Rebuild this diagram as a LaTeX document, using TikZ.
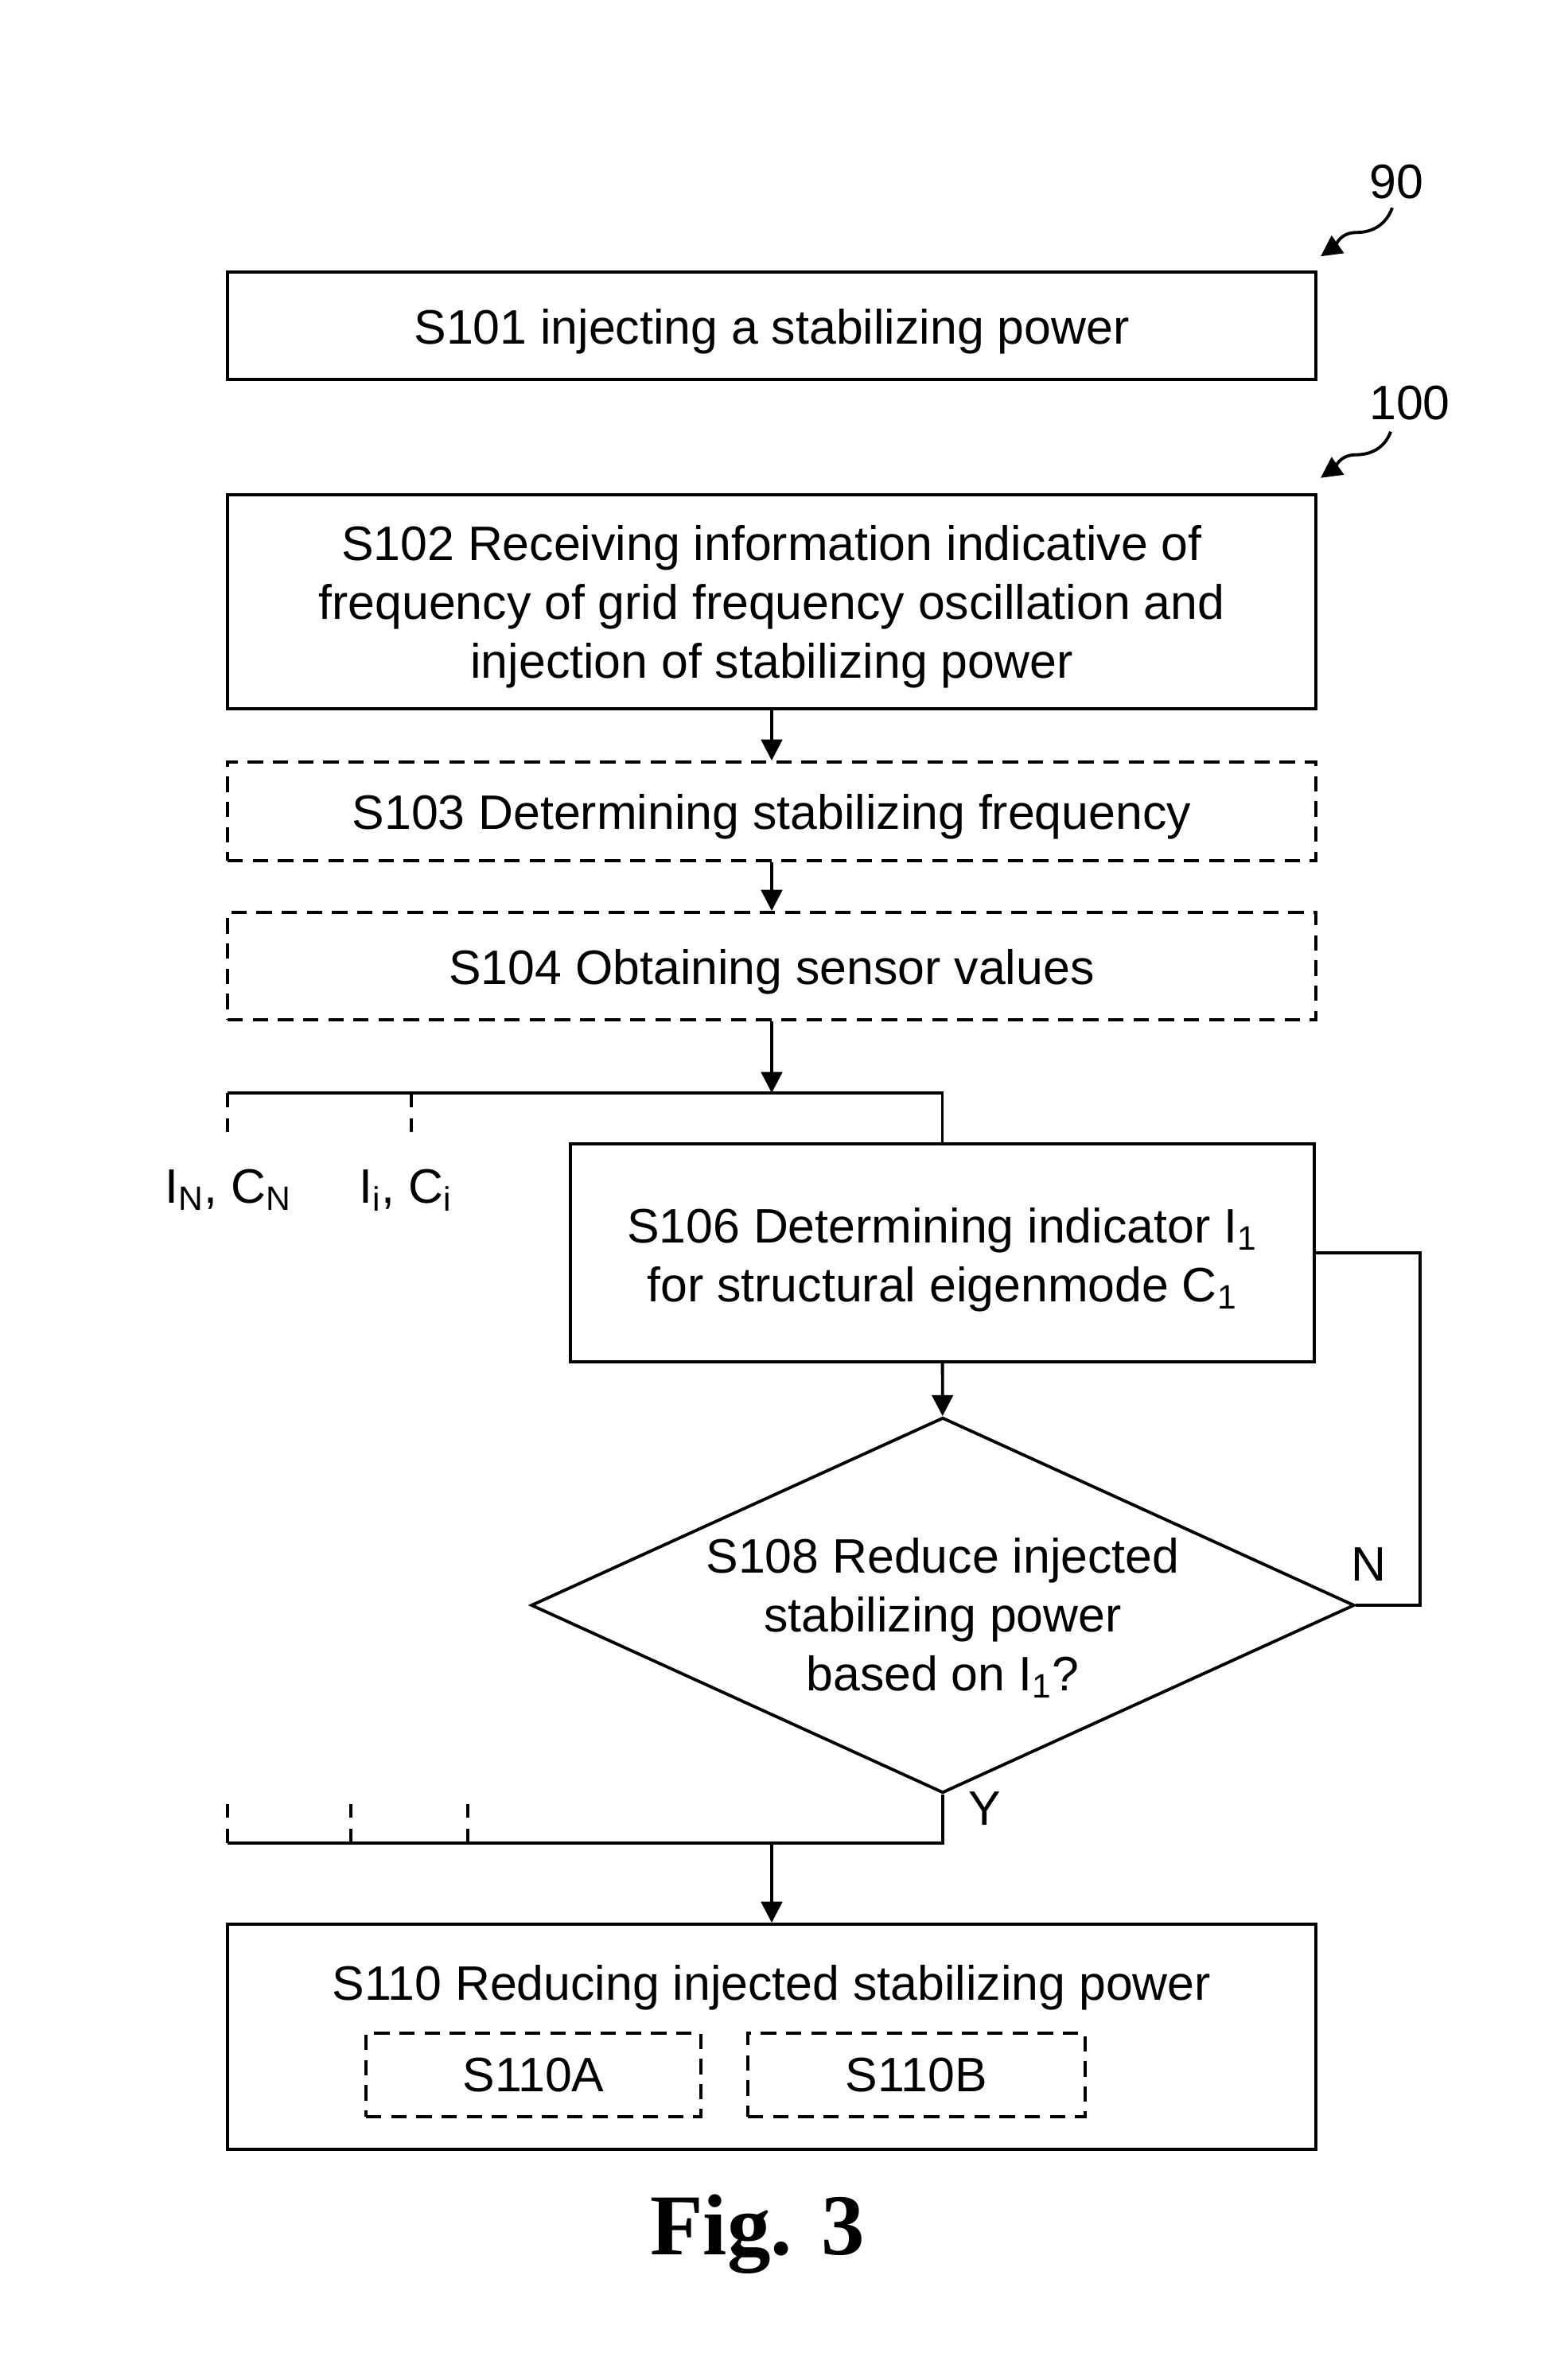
\documentclass[tikz,border=0pt]{standalone}
\usepackage{fontspec}
\setmainfont{Liberation Sans}
\newfontfamily\figfont{Liberation Serif}
\usepackage{tikz}
\usetikzlibrary{arrows.meta, positioning, calc, shapes.geometric}

\begin{document}
\begin{tikzpicture}[
    every node/.style={font=\fontsize{17.3}{21}\selectfont, align=center, inner sep=0pt},
    stepbox/.style={draw, line width=1.1pt, minimum width=13.68cm, execute at begin node=\rule{0pt}{16.5pt}},
    optbox/.style={stepbox, dash pattern=on 5.5pt off 3.5pt},
    subbox/.style={draw, line width=1.1pt, dash pattern=on 5.5pt off 3.5pt},
    decision/.style={draw, diamond, line width=1.1pt, minimum width=10.35cm, minimum height=4.72cm},
    conn/.style={line width=1.1pt},
    stub/.style={line width=1.1pt, dash pattern=on 5pt off 4pt},
    flow/.style={conn, -{Triangle[length=7.5pt, width=7.5pt]}},
    refarrow/.style={line width=1.1pt, -{Triangle[length=7.5pt, width=7.5pt]}}
]
    \useasboundingbox (0,0) rectangle (19.42,-29.92);

    % reference numerals
    \node (r90) at (17.55,-2.29) {90};
    \node (r100) at (17.72,-5.07) {100};
    \draw[refarrow] ($(r90.south)+(-0.05,-0.10)$) to[out=250, in=0] ($(r90.south)+(-0.50,-0.41)$) to[out=180, in=35] ($(r90.south)+(-0.95,-0.71)$);
    \draw[refarrow] ($(r100.south)+(-0.24,-0.135)$) to[out=250, in=0] ($(r100.south)+(-0.68,-0.425)$) to[out=180, in=35] ($(r100.south)+(-1.12,-0.715)$);

    % main steps
    \node[stepbox, minimum height=1.35cm] (s101) at (9.70,-4.095) {S101 injecting a stabilizing power};
    \node[stepbox, minimum height=2.69cm, label={[yshift=-0.06cm]center:S102 Receiving information indicative of\\frequency of grid frequency oscillation and\\injection of stabilizing power}] (s102) at (9.70,-7.565) {};
    \node[optbox, minimum height=1.24cm] (s103) at (9.70,-10.20) {S103 Determining stabilizing frequency};
    \node[optbox, minimum height=1.35cm] (s104) at (9.70,-12.145) {S104 Obtaining sensor values};

    \draw[flow] (s102) -- (s103);
    \draw[flow] (s103) -- (s104);

    % split to the eigenmodes
    \coordinate (split) at (9.70,-13.74);
    \coordinate (bN) at (2.86,-13.74);
    \coordinate (bi) at (5.17,-13.74);
    \node[stepbox, minimum width=9.35cm, minimum height=2.74cm, label={[yshift=-0.09cm]center:S106 Determining indicator I\textsubscript{1}\\for structural eigenmode C\textsubscript{1}}] (s106) at (11.845,-15.75) {};
    \node (lN) at (2.87,-14.96) {I\textsubscript{N}, C\textsubscript{N}};
    \node (li) at (5.10,-14.96) {I\textsubscript{i}, C\textsubscript{i}};

    \draw[flow] (s104) -- (split);
    \draw[conn] (bN) -- (bN -| s106.north) -- (s106.north);
    \draw[stub] (bN) -- (bN |- s106.north);
    \draw[stub] (bi) -- (bi |- s106.north);

    % decision
    \node[decision, label={[yshift=-0.16cm]center:S108 Reduce injected\\stabilizing power\\based on I\textsubscript{1}?}] (s108) at (11.85,-20.18) {};
    \coordinate (nturn) at (17.85,-15.75);
    \node (no) at (17.20,-19.67) {N};
    \node (yes) at (12.38,-22.74) {Y};

    \draw[flow] (s106) -- (s108);
    \draw[conn] (s106.east) -- (nturn) |- (s108.east);

    % merge
    \coordinate (join) at (11.85,-23.17);
    \coordinate (jN) at (2.86,-23.17);
    \coordinate (merge) at (9.70,-23.17);
    \draw[conn] (s108.south) -- (join) -- (jN);
    \foreach \xx in {2.86, 4.41, 5.88}
        \draw[stub] (\xx,-23.17) -- (\xx,-22.54);

    % reducing step
    \node[stepbox, minimum height=2.83cm] (s110) at (9.70,-25.605) {};
    \node (s110t) at (9.70,-24.99) {S110 Reducing injected stabilizing power};
    \node[subbox, minimum width=4.21cm, minimum height=1.05cm] (s110a) at (6.705,-26.085) {S110A};
    \node[subbox, minimum width=4.24cm, minimum height=1.05cm] (s110b) at (11.52,-26.085) {S110B};
    \draw[flow] (merge) -- (s110.north);

    \node (fig) at (9.52,-28.09) {\figfont\bfseries\fontsize{31}{31}\selectfont Fig. 3};
\end{tikzpicture}
\end{document}
